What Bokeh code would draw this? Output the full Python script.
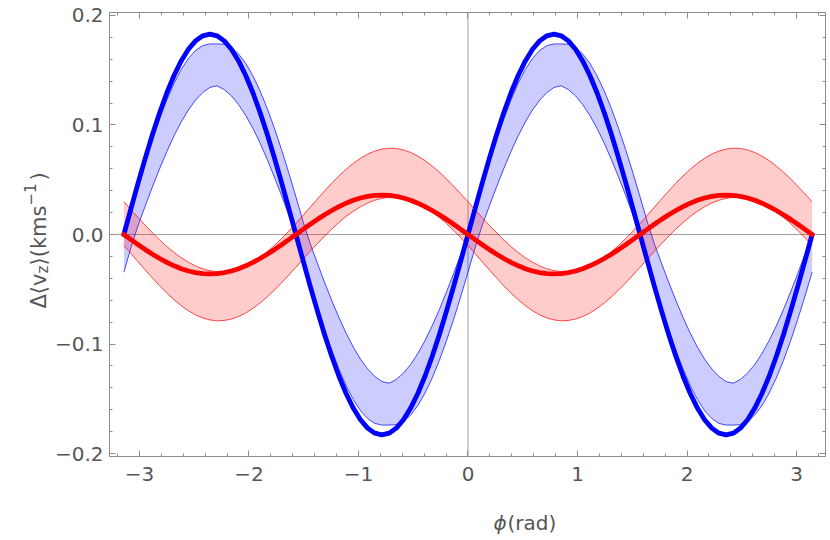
import numpy as np
from bokeh.plotting import figure
from bokeh.layouts import row, column
from bokeh.models import SingleIntervalTicker, LinearAxis, CustomJSTickFormatter, Span, Label
from bokeh.embed import file_html
from bokeh.resources import INLINE

# azimuth grid (rad)
phi = np.linspace(-np.pi, np.pi, 97)

# thick blue curve
blue_mean = [
    0.0, 0.0239, 0.0474, 0.0700, 0.0915, 0.1114, 0.1294, 0.1452, 0.1585, 0.1691, 0.1768, 0.1814,
    0.1830, 0.1814, 0.1768, 0.1691, 0.1585, 0.1452, 0.1294, 0.1114, 0.0915, 0.0700, 0.0474, 0.0239,
    0.0, -0.0239, -0.0474, -0.0700, -0.0915, -0.1114, -0.1294, -0.1452, -0.1585, -0.1691, -0.1768, -0.1814,
    -0.1830, -0.1814, -0.1768, -0.1691, -0.1585, -0.1452, -0.1294, -0.1114, -0.0915, -0.0700, -0.0474, -0.0239,
    0.0, 0.0239, 0.0474, 0.0700, 0.0915, 0.1114, 0.1294, 0.1452, 0.1585, 0.1691, 0.1768, 0.1814,
    0.1830, 0.1814, 0.1768, 0.1691, 0.1585, 0.1452, 0.1294, 0.1114, 0.0915, 0.0700, 0.0474, 0.0239,
    0.0, -0.0239, -0.0474, -0.0700, -0.0915, -0.1114, -0.1294, -0.1452, -0.1585, -0.1691, -0.1768, -0.1814,
    -0.1830, -0.1814, -0.1768, -0.1691, -0.1585, -0.1452, -0.1294, -0.1114, -0.0915, -0.0700, -0.0474, -0.0239,
    0.0]

# blue band upper / lower edges
blue_hi = [
    0.0, 0.0227, 0.0450, 0.0666, 0.0870, 0.1059, 0.1230, 0.1381, 0.1507, 0.1608, 0.1681, 0.1725,
    0.1740, 0.1740, 0.1737, 0.1708, 0.1649, 0.1563, 0.1449, 0.1311, 0.1151, 0.0970, 0.0774, 0.0564,
    0.0344, 0.0118, -0.0086, -0.0264, -0.0437, -0.0603, -0.0758, -0.0901, -0.1028, -0.1137, -0.1227, -0.1296,
    -0.1343, -0.1358, -0.1323, -0.1266, -0.1186, -0.1087, -0.0969, -0.0834, -0.0685, -0.0524, -0.0355, -0.0179,
    0.0, 0.0227, 0.0450, 0.0666, 0.0870, 0.1059, 0.1230, 0.1381, 0.1507, 0.1608, 0.1681, 0.1725,
    0.1740, 0.1740, 0.1737, 0.1708, 0.1649, 0.1563, 0.1449, 0.1311, 0.1151, 0.0970, 0.0774, 0.0564,
    0.0344, 0.0118, -0.0086, -0.0264, -0.0437, -0.0603, -0.0758, -0.0901, -0.1028, -0.1137, -0.1227, -0.1296,
    -0.1343, -0.1358, -0.1323, -0.1266, -0.1186, -0.1087, -0.0969, -0.0834, -0.0685, -0.0524, -0.0355, -0.0179,
    0.0]
blue_lo = [
    -0.0344, -0.0118, 0.0086, 0.0264, 0.0437, 0.0603, 0.0758, 0.0901, 0.1028, 0.1137, 0.1227, 0.1296,
    0.1343, 0.1358, 0.1323, 0.1266, 0.1186, 0.1087, 0.0969, 0.0834, 0.0685, 0.0524, 0.0355, 0.0179,
    0.0, -0.0227, -0.0450, -0.0666, -0.0870, -0.1059, -0.1230, -0.1381, -0.1507, -0.1608, -0.1681, -0.1725,
    -0.1740, -0.1740, -0.1737, -0.1708, -0.1649, -0.1563, -0.1449, -0.1311, -0.1151, -0.0970, -0.0774, -0.0564,
    -0.0344, -0.0118, 0.0086, 0.0264, 0.0437, 0.0603, 0.0758, 0.0901, 0.1028, 0.1137, 0.1227, 0.1296,
    0.1343, 0.1358, 0.1323, 0.1266, 0.1186, 0.1087, 0.0969, 0.0834, 0.0685, 0.0524, 0.0355, 0.0179,
    0.0, -0.0227, -0.0450, -0.0666, -0.0870, -0.1059, -0.1230, -0.1381, -0.1507, -0.1608, -0.1681, -0.1725,
    -0.1740, -0.1740, -0.1737, -0.1708, -0.1649, -0.1563, -0.1449, -0.1311, -0.1151, -0.0970, -0.0774, -0.0564,
    -0.0344]

# thick red curve
red_mean = [
    0.0, -0.0047, -0.0093, -0.0138, -0.0180, -0.0219, -0.0255, -0.0286, -0.0312, -0.0333, -0.0348, -0.0357,
    -0.0360, -0.0357, -0.0348, -0.0333, -0.0312, -0.0286, -0.0255, -0.0219, -0.0180, -0.0138, -0.0093, -0.0047,
    0.0, 0.0047, 0.0093, 0.0138, 0.0180, 0.0219, 0.0255, 0.0286, 0.0312, 0.0333, 0.0348, 0.0357,
    0.0360, 0.0357, 0.0348, 0.0333, 0.0312, 0.0286, 0.0255, 0.0219, 0.0180, 0.0138, 0.0093, 0.0047,
    0.0, -0.0047, -0.0093, -0.0138, -0.0180, -0.0219, -0.0255, -0.0286, -0.0312, -0.0333, -0.0348, -0.0357,
    -0.0360, -0.0357, -0.0348, -0.0333, -0.0312, -0.0286, -0.0255, -0.0219, -0.0180, -0.0138, -0.0093, -0.0047,
    0.0, 0.0047, 0.0093, 0.0138, 0.0180, 0.0219, 0.0255, 0.0286, 0.0312, 0.0333, 0.0348, 0.0357,
    0.0360, 0.0357, 0.0348, 0.0333, 0.0312, 0.0286, 0.0255, 0.0219, 0.0180, 0.0138, 0.0093, 0.0047,
    0.0]

# red band upper / lower edges
red_hi = [
    0.0299, 0.0226, 0.0154, 0.0083, 0.0015, -0.0050, -0.0110, -0.0164, -0.0212, -0.0253, -0.0287, -0.0313,
    -0.0330, -0.0339, -0.0338, -0.0329, -0.0311, -0.0285, -0.0250, -0.0207, -0.0157, -0.0100, -0.0037, 0.0030,
    0.0101, 0.0175, 0.0250, 0.0325, 0.0398, 0.0469, 0.0535, 0.0596, 0.0650, 0.0696, 0.0734, 0.0762,
    0.0780, 0.0788, 0.0785, 0.0772, 0.0749, 0.0717, 0.0675, 0.0626, 0.0570, 0.0508, 0.0441, 0.0371,
    0.0299, 0.0226, 0.0154, 0.0083, 0.0015, -0.0050, -0.0110, -0.0164, -0.0212, -0.0253, -0.0287, -0.0313,
    -0.0330, -0.0339, -0.0338, -0.0329, -0.0311, -0.0285, -0.0250, -0.0207, -0.0157, -0.0100, -0.0037, 0.0030,
    0.0101, 0.0175, 0.0250, 0.0325, 0.0398, 0.0469, 0.0535, 0.0596, 0.0650, 0.0696, 0.0734, 0.0762,
    0.0780, 0.0788, 0.0785, 0.0772, 0.0749, 0.0717, 0.0675, 0.0626, 0.0570, 0.0508, 0.0441, 0.0371,
    0.0299]
red_lo = [
    -0.0101, -0.0175, -0.0250, -0.0325, -0.0398, -0.0469, -0.0535, -0.0596, -0.0650, -0.0696, -0.0734, -0.0762,
    -0.0780, -0.0788, -0.0785, -0.0772, -0.0749, -0.0717, -0.0675, -0.0626, -0.0570, -0.0508, -0.0441, -0.0371,
    -0.0299, -0.0226, -0.0154, -0.0083, -0.0015, 0.0050, 0.0110, 0.0164, 0.0212, 0.0253, 0.0287, 0.0313,
    0.0330, 0.0339, 0.0338, 0.0329, 0.0311, 0.0285, 0.0250, 0.0207, 0.0157, 0.0100, 0.0037, -0.0030,
    -0.0101, -0.0175, -0.0250, -0.0325, -0.0398, -0.0469, -0.0535, -0.0596, -0.0650, -0.0696, -0.0734, -0.0762,
    -0.0780, -0.0788, -0.0785, -0.0772, -0.0749, -0.0717, -0.0675, -0.0626, -0.0570, -0.0508, -0.0441, -0.0371,
    -0.0299, -0.0226, -0.0154, -0.0083, -0.0015, 0.0050, 0.0110, 0.0164, 0.0212, 0.0253, 0.0287, 0.0313,
    0.0330, 0.0339, 0.0338, 0.0329, 0.0311, 0.0285, 0.0250, 0.0207, 0.0157, 0.0100, 0.0037, -0.0030,
    -0.0101]

x_tick_step = 1
y_tick_step = 0.1
x_title = ["ϕ", "(rad)"]
y_title = ["Δ⟨v", "z", "⟩(kms", "−1", ")"]

FRAME = "#8c8c8c"
LABEL = "#555555"
FONT = "DejaVu Sans"
BLUE = "#0000ff"
RED = "#ff0000"

# ---- main plot ----
p = figure(width=777, height=500, x_range=(-3.2727, 3.2636), y_range=(-0.2027, 0.2027),
           output_backend="svg", toolbar_location=None,
           min_border_left=55, min_border_right=3, min_border_top=12, min_border_bottom=44)
p.background_fill_color = "white"
p.border_fill_color = "white"
p.xgrid.visible = False
p.ygrid.visible = False
p.outline_line_color = FRAME
bottom_ax = p.below[0]
left_ax = p.left[0]

p.add_layout(Span(location=0, dimension="height", line_color="#a0a0a0", line_width=1, level="underlay"))
p.add_layout(Span(location=0, dimension="width", line_color="#a0a0a0", line_width=1, level="underlay"))

p.varea(x=phi, y1=blue_lo, y2=blue_hi, fill_color=BLUE, fill_alpha=0.2)
p.line(phi, blue_hi, line_color=BLUE, line_alpha=0.7, line_width=1)
p.line(phi, blue_lo, line_color=BLUE, line_alpha=0.7, line_width=1)
p.varea(x=phi, y1=red_lo, y2=red_hi, fill_color=RED, fill_alpha=0.2)
p.line(phi, red_hi, line_color=RED, line_alpha=0.7, line_width=1)
p.line(phi, red_lo, line_color=RED, line_alpha=0.7, line_width=1)
p.line(phi, blue_mean, line_color=BLUE, line_width=4.8, line_join="round", line_cap="round")
p.line(phi, red_mean, line_color=RED, line_width=4.8, line_join="round", line_cap="round")

xt = SingleIntervalTicker(interval=x_tick_step, num_minor_ticks=5)
yt = SingleIntervalTicker(interval=y_tick_step, num_minor_ticks=5)
bottom_ax.ticker = xt
left_ax.ticker = yt
bottom_ax.formatter = CustomJSTickFormatter(
    code="var v = Math.abs(tick) < 1e-9 ? 0 : tick; return v.toFixed(0).replace('-', '\u2212');")
left_ax.formatter = CustomJSTickFormatter(
    code="var v = Math.abs(tick) < 1e-9 ? 0 : tick; return v.toFixed(1).replace('-', '\u2212');")

top_ax = LinearAxis(ticker=xt, formatter=CustomJSTickFormatter(code="return '';"))
right_ax = LinearAxis(ticker=yt, formatter=CustomJSTickFormatter(code="return '';"))
p.add_layout(top_ax, "above")
p.add_layout(right_ax, "right")

for ax in [bottom_ax, left_ax, top_ax, right_ax]:
    ax.axis_line_color = FRAME
    ax.major_tick_line_color = FRAME
    ax.minor_tick_line_color = FRAME
    ax.major_tick_in = 6
    ax.major_tick_out = 0
    ax.minor_tick_in = 3
    ax.minor_tick_out = 0
    ax.major_label_text_font = FONT
    ax.major_label_text_font_size = "20px"
    ax.major_label_text_color = LABEL
for ax in [top_ax, right_ax]:
    ax.major_label_text_font_size = "0px"
    ax.major_label_standoff = 0
bottom_ax.major_label_standoff = 10
left_ax.major_label_standoff = 6


def blank(w, h):
    f = figure(width=w, height=h, x_range=(0, 1), y_range=(0, 1), output_backend="svg",
               toolbar_location=None, x_axis_type=None, y_axis_type=None, min_border=0)
    f.outline_line_color = None
    f.xgrid.visible = False
    f.ygrid.visible = False
    f.background_fill_color = "white"
    f.border_fill_color = "white"
    return f


# ---- y title strip (rotated pieces) ----
fy = blank(51, 538)
sizes = [21, 15, 21, 15, 21]
shifts = [0.0, 3.5, 0.0, -9.5, 0.0]
advances = [35.0, 8.0, 60.0, 25.0, 8.0]
yy = 230.0
for txt, fs, sh, adv in zip(y_title, sizes, shifts, advances):
    fy.add_layout(Label(x=38.5 + sh, y=yy, x_units="screen", y_units="screen", text=txt,
                        angle=np.pi / 2, text_font=FONT, text_font_size=f"{fs}px",
                        text_color=LABEL, text_align="left", text_baseline="alphabetic"))
    yy += adv

# ---- x title strip ----
fx = blank(777, 38)
fx.add_layout(Label(x=384, y=16, x_units="screen", y_units="screen", text=x_title[0],
                    text_font=FONT, text_font_style="italic", text_font_size="20px",
                    text_color=LABEL, text_align="left", text_baseline="alphabetic"))
fx.add_layout(Label(x=398, y=16, x_units="screen", y_units="screen", text=x_title[1],
                    text_font=FONT, text_font_size="20px",
                    text_color=LABEL, text_align="left", text_baseline="alphabetic"))

layout = row(fy, column(p, fx, spacing=0), spacing=0)
open("out.html", "w").write(file_html(layout, INLINE))
